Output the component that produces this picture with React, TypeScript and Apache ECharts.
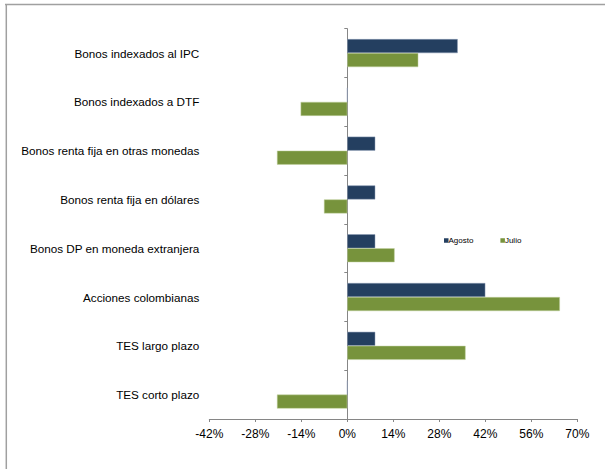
import React, { useEffect, useRef } from "react";
import * as echarts from "echarts";

const categories = [
  "Bonos indexados al IPC",
  "Bonos indexados a DTF",
  "Bonos renta fija en otras monedas",
  "Bonos renta fija en dólares",
  "Bonos DP en moneda extranjera",
  "Acciones colombianas",
  "TES largo plazo",
  "TES corto plazo",
];
const agosto = [33.6, 0, 8.5, 8.5, 8.5, 42, 8.5, 0];
const julio = [21.6, -14.2, -21.4, -7.1, 14.4, 64.7, 36, -21.4];
const xTicks = { min: -42, max: 70, interval: 14 };

export default function App() {
  const ref = useRef<HTMLDivElement>(null);
  useEffect(() => {
    if (!ref.current) return;
    const chart = echarts.init(ref.current, undefined, { renderer: "svg" });
    const font = "'Liberation Sans', Arial, sans-serif";
    chart.setOption({
      animation: false,
      textStyle: { fontFamily: font },
      grid: {
        left: 209.3,
        right: 27.7,
        top: 28.7,
        bottom: 50,
        containLabel: false,
        outerBoundsMode: "none",
      },
      legend: {
        data: ["Agosto", "Julio"],
        left: 439,
        top: 231.5,
        itemWidth: 4.5,
        itemHeight: 4.5,
        itemGap: 27,
        icon: "rect",
        itemStyle: { borderWidth: 0 },
        textStyle: { fontSize: 8, color: "#000", fontFamily: font, padding: [0, 0, 0, -5] },
      },
      xAxis: {
        type: "value",
        min: xTicks.min,
        max: xTicks.max,
        interval: xTicks.interval,
        axisLine: { show: true, lineStyle: { color: "#868686", width: 1 } },
        axisTick: { show: true, length: 3, lineStyle: { color: "#868686" } },
        splitLine: { show: false },
        axisLabel: {
          formatter: (v: number) => `${v}%`,
          color: "#000",
          fontSize: 12,
          fontFamily: font,
          margin: 9,
        },
      },
      yAxis: {
        type: "category",
        data: categories,
        inverse: true,
        axisLine: { show: true, onZero: true, lineStyle: { color: "#868686", width: 1 } },
        axisTick: { show: true, length: 3, lineStyle: { color: "#868686" } },
        axisLabel: { color: "#000", fontSize: 11.7, fontFamily: font, margin: 10 },
      },
      series: [
        {
          name: "Agosto",
          type: "bar",
          data: agosto,
          barWidth: 14,
          barGap: "0%",
          itemStyle: { color: "#243F60", borderColor: "#8a9bb5", borderWidth: 0.5 },
        },
        {
          name: "Julio",
          type: "bar",
          data: julio,
          barWidth: 14,
          barGap: "0%",
          itemStyle: { color: "#77933C", borderColor: "#c2d3a0", borderWidth: 0.5 },
        },
      ],
      graphic: [
        { type: "line", shape: { x1: 5, y1: 4.5, x2: 605, y2: 4.5 }, style: { stroke: "#A0A0A0", lineWidth: 1.5 } },
        { type: "line", shape: { x1: 6.3, y1: 4, x2: 6.3, y2: 469 }, style: { stroke: "#A0A0A0", lineWidth: 1.5 } },
      ],
    });
    return () => chart.dispose();
  }, []);
  return (
    <div
      ref={ref}
      style={{ position: "absolute", left: 0, top: 0, width: 605, height: 469, background: "#fff" }}
    />
  );
}
